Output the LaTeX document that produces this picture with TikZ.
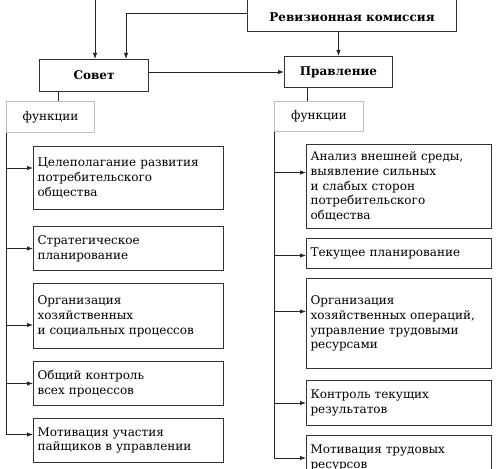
\documentclass[tikz,border=0pt]{standalone}
\usepackage{fontspec}
\setmainfont{DejaVu Serif}
\usetikzlibrary{arrows.meta}

\begin{document}
\begin{tikzpicture}[x=1pt,y=-1pt,
  every node/.style={line width=1pt},
  head/.style={draw=black!80,anchor=north west,inner sep=0pt,
    font=\fontsize{12}{14}\selectfont\bfseries},
  func/.style={draw=black!25,anchor=north west,inner sep=0pt,
    font=\fontsize{12}{14}\selectfont},
  item/.style={draw=black!80,anchor=north west,inner xsep=4pt,inner ysep=0pt,
    align=left,font=\fontsize{12}{14.8}\selectfont},
  arr/.style={-{Latex[length=6pt,width=4.5pt]},line width=0.9pt,black!85}]
\useasboundingbox (0,0) rectangle (500,468);
\clip (0,0) rectangle (500,468);

% top level
\node[head,minimum width=209,text height=40pt,text depth=10pt] (rev) at (247,-19) {Ревизионная комиссия};
\node[head,minimum width=109,minimum height=32] (sov) at (39,59) {Совет};
\node[head,minimum width=108,minimum height=31] (prav) at (284,56) {Правление};
\coordinate (top) at (95,0);

\draw[arr] (top) -- (top |- sov.north);
\draw[arr] ([yshift=-7pt]rev.west) -| ([xshift=32pt]sov.north);
\draw[arr] (rev.south -| prav.north) -- (prav.north);
\draw[arr] (prav.west -| sov.east) -- (prav.west);

% functions
\node[func,minimum width=88,minimum height=31] (fl) at (6,101) {функции};
\node[func,minimum width=89,minimum height=30] (fr) at (274,101) {функции};
\draw[line width=0.9pt,black!85] (fl.north -| 58,0) -- (sov.south -| 58,0);
\draw[line width=0.9pt,black!85] (fr.north -| 307,0) -- (prav.south -| 307,0);

% left column
\node[item,text width=182pt,minimum height=63] (l1) at (33,146) {Целеполагание развития\\потребительского\\общества};
\node[item,text width=182pt,minimum height=44] (l2) at (33,226) {Стратегическое\\планирование};
\node[item,text width=182pt,minimum height=65] (l3) at (33,283) {Организация\\хозяйственных\\и социальных процессов};
\node[item,text width=182pt,minimum height=44] (l4) at (33,361) {Общий контроль\\всех процессов};
\node[item,text width=182pt,minimum height=44] (l5) at (33,418) {Мотивация участия\\пайщиков в управлении};

% right column
\node[item,text width=177pt,minimum height=84] (r1) at (306,144) {Анализ внешней среды,\\выявление сильных\\и слабых сторон\\потребительского\\общества};
\node[item,text width=177pt,minimum height=30] (r2) at (306,238) {Текущее планирование};
\node[item,text width=177pt,minimum height=90] (r3) at (306,278) {Организация\\хозяйственных операций,\\управление трудовыми\\ресурсами};
\node[item,text width=177pt,minimum height=45] (r4) at (306,380) {Контроль текущих\\результатов};
\node[item,text width=177pt,minimum height=45] (r5) at (306,435) {Мотивация трудовых\\ресурсов};

\foreach \n/\dy in {l1/10,l2/0,l3/-9,l4/0,l5/6}
  \draw[arr] (fl.south west) |- ([yshift=\dy pt]\n.west);
\foreach \n/\dy in {r1/14,r2/-2,r3/12,r4/0,r5/0}
  \draw[arr] (fr.south west) |- ([yshift=\dy pt]\n.west);
\end{tikzpicture}
\end{document}
